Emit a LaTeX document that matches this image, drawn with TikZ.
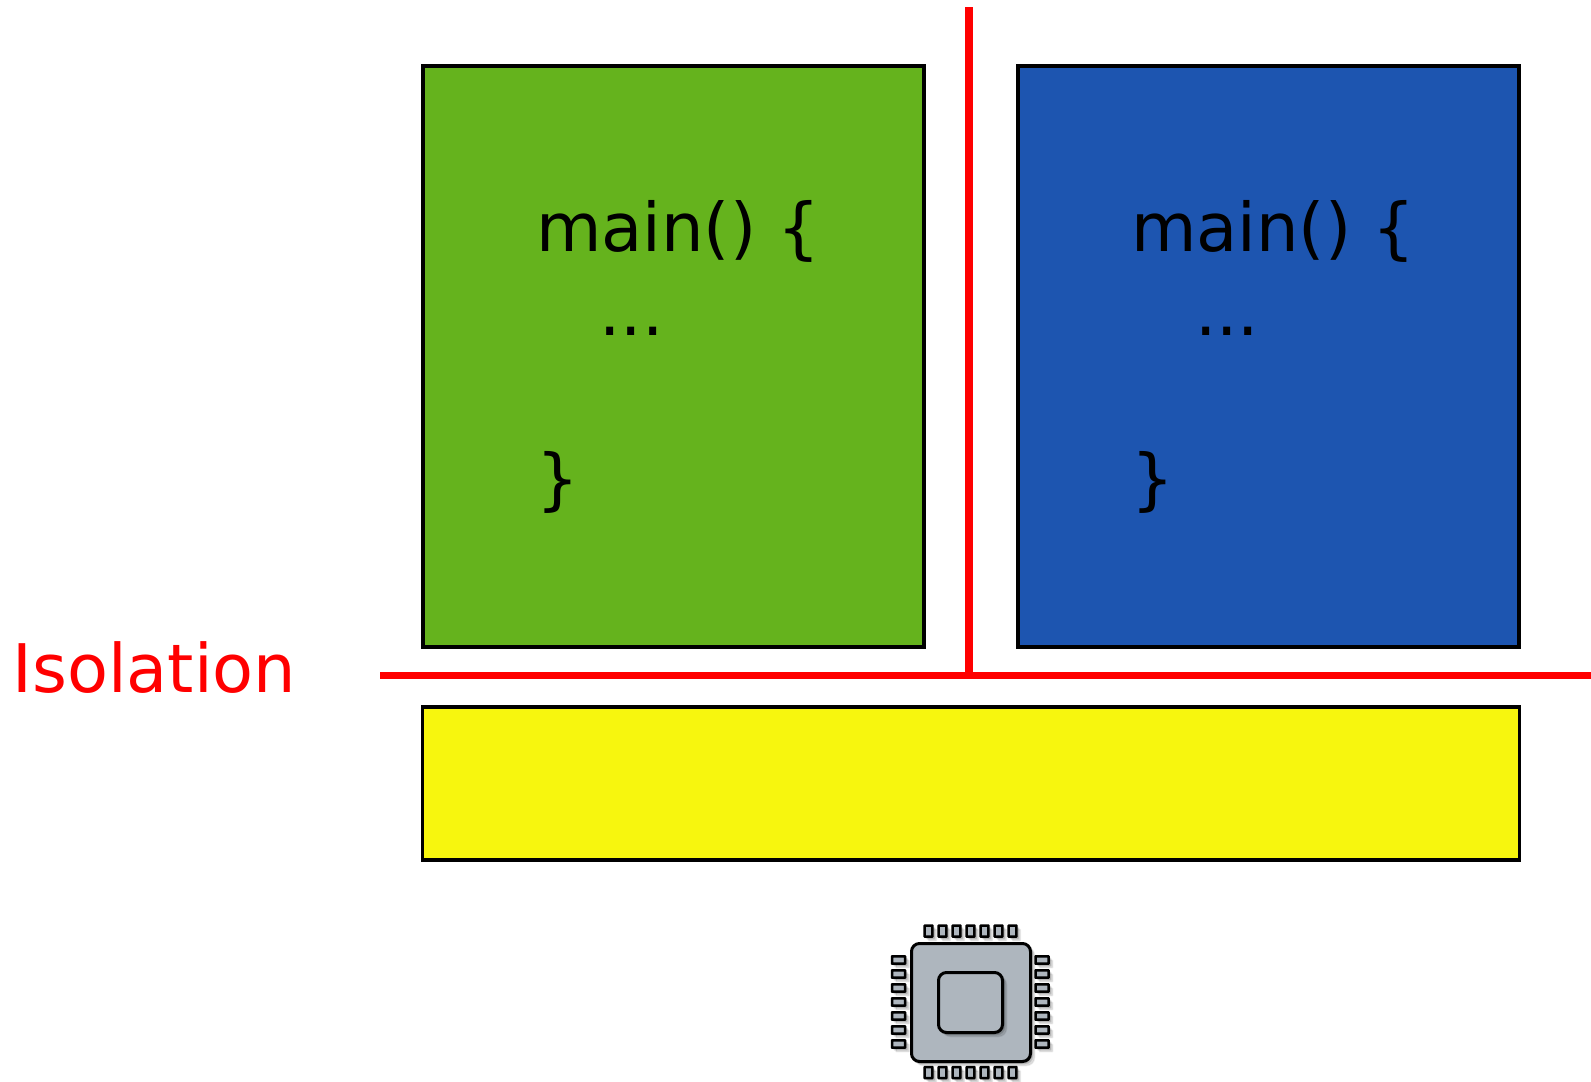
\documentclass[tikz,border=0pt]{standalone}
\usepackage{fontspec}
\setmainfont{DejaVu Sans}
\usetikzlibrary{shadows}
\definecolor{cgreen}{HTML}{65B31D}
\definecolor{cblue}{HTML}{1D55B0}
\definecolor{cyellow}{HTML}{F7F60E}
\definecolor{cchip}{HTML}{AEB6BE}
\tikzset{
  panel/.style={draw=black,line width=3.5pt,inner sep=0pt,outer sep=0pt},
  code/.style={inner sep=0pt,outer sep=0pt,anchor=base west,text=black,font=\fontsize{67.2}{67.2}\selectfont},
  redtext/.style={code,text=red,font=\fontsize{67}{67}\selectfont},
  barrier/.style={draw=red,line width=7.5pt},
  softshadow/.style={general shadow={fill=black,opacity=0.10,shadow xshift=#1pt,shadow yshift=-#1pt,draw=black,line width=1.5pt,draw opacity=0.07}},
  chippart/.style={draw=black,fill=cchip,line width=3pt,inner sep=0pt,outer sep=0pt,softshadow=1.5,softshadow=2.5,softshadow=4},
  pinh/.style={chippart,line width=2.5pt,minimum width=7.8pt,minimum height=11pt,rounded corners=0.4pt},
  pinv/.style={chippart,line width=2.5pt,minimum width=13pt,minimum height=7.4pt,rounded corners=0.4pt},
}
\begin{document}
\begin{tikzpicture}[x=1pt,y=-1pt]
\useasboundingbox (0,0) rectangle (1591,1082);
% panels
\node[panel,fill=cgreen,minimum width=501pt,minimum height=581pt] (green) at (673.5,356.5) {};
\node[panel,fill=cblue,minimum width=501pt,minimum height=581pt] (blue) at (1268.5,356.5) {};
\node[panel,fill=cyellow,minimum width=1097pt,minimum height=153pt] (yellow) at (971,783.5) {};
% code
\node[code] (m1) at (536,251) {main() \{};
\node[code] (d1) at (599.5,335) {...};
\node[code] (c1) at (536.5,502) {\}};
\node[code] (m2) at (1131,251) {main() \{};
\node[code] (d2) at (1195,335) {...};
\node[code] (c2) at (1131.5,502) {\}};
% isolation
\node[redtext] (iso) at (12.5,692) {Isolation};
\coordinate (hl) at (380,675.5);
\coordinate (hr) at (1591,675.5);
\coordinate (vt) at (969,7);
\coordinate (vb) at (969,675.5);
\draw[barrier] (vt) -- (vb);
\draw[barrier] (hl) -- (hr);
% chip
\foreach \i in {0,...,6}{
  \node[pinh] (pt\i) at ({928.5+14*\i},931) {};
  \node[pinh] (pb\i) at ({928.5+14*\i},1072.5) {};
  \node[pinv] (pl\i) at (898.5,{960+14*\i}) {};
  \node[pinv] (pr\i) at (1042,{960+14*\i}) {};
}
\node[chippart,minimum width=119pt,minimum height=118pt,rounded corners=8pt] (body) at (971,1002.5) {};
\node[chippart,minimum width=64pt,minimum height=60pt,rounded corners=8pt] (core) at (970.5,1002.5) {};
\end{tikzpicture}
\end{document}
